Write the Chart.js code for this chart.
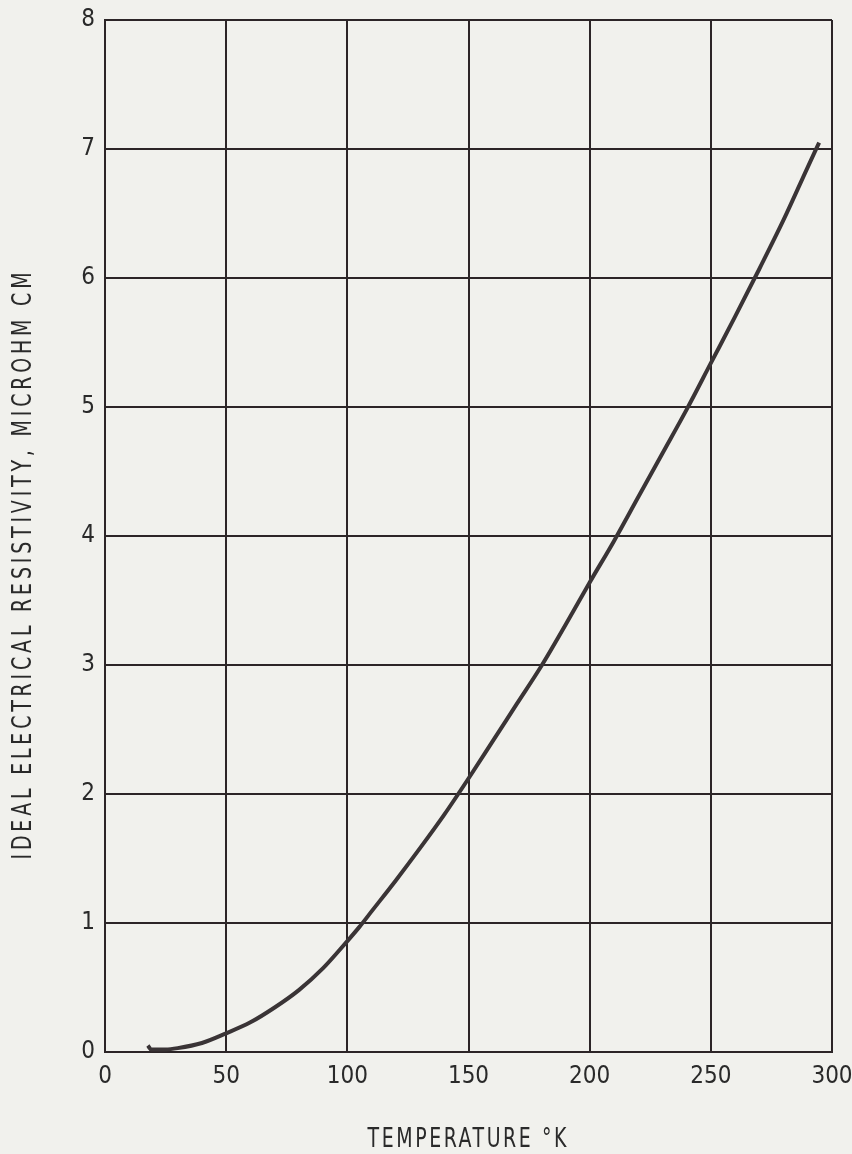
<!DOCTYPE html>
<html>
<head>
<meta charset="utf-8">
<script src="https://cdn.jsdelivr.net/npm/chart.js@4.4.1/dist/chart.umd.min.js"></script>
<style>
  html, body { margin: 0; padding: 0; background: #f1f1ed; }
  #wrap { width: 852px; height: 1154px; position: relative; }
</style>
</head>
<body>
<div id="wrap"><canvas id="rhoChart" width="852" height="1154"></canvas></div>
<script>
// Ideal electrical resistivity vs temperature.
var temps = [17.7, 19, 25, 30, 40, 50, 60, 70, 80, 90, 100, 105, 110, 120, 130, 140,
  150, 160, 170, 180, 190, 200, 210, 220, 230, 240, 250, 260, 270, 280, 290, 294.7];
var resistivity = [0.05, 0.02, 0.02, 0.03, 0.07, 0.145, 0.23, 0.345, 0.48, 0.65, 0.86, 0.97, 1.09, 1.33, 1.58, 1.84,
  2.12, 2.41, 2.7, 2.99, 3.31, 3.64, 3.96, 4.3, 4.64, 4.98, 5.34, 5.7, 6.07, 6.45, 6.86, 7.05];
var xTicks = [0, 50, 100, 150, 200, 250, 300];
var yTicks = [0, 1, 2, 3, 4, 5, 6, 7, 8];
var xTitle = 'TEMPERATURE \u00B0K';
var yTitle = 'IDEAL ELECTRICAL RESISTIVITY, MICROHM CM';

var INK = '#2c2527';
var TEXT = '#2a2a2a';
var FONT = "'DejaVu Sans Condensed', 'Liberation Sans Narrow', 'Roboto Condensed', sans-serif";

// axis titles drawn by hand: narrow letters, spread to the original's length
var titlesPlugin = {
  id: 'axisTitles',
  afterDraw: function (chart) {
    var ctx = chart.ctx;
    ctx.save();
    ctx.fillStyle = TEXT;
    ctx.textAlign = 'center';
    ctx.textBaseline = 'middle';
    ctx.font = '27px ' + FONT;

    ctx.save();
    ctx.translate(467, 1140);
    fitText(ctx, xTitle, 199);
    ctx.restore();

    ctx.save();
    ctx.translate(24, 566);
    ctx.rotate(-Math.PI / 2);
    fitText(ctx, yTitle, 587);
    ctx.restore();
    ctx.restore();
  }
};

function fitText(ctx, text, width) {
  var squeeze = 0.78;
  ctx.scale(squeeze, 1);
  ctx.letterSpacing = '0px';
  var w = ctx.measureText(text).width;
  var sp = (width / squeeze - w) / (text.length - 1);
  ctx.letterSpacing = sp + 'px';
  ctx.fillText(text, sp / 2, 0);
}

var bgPlugin = {
  id: 'bg',
  beforeDraw: function (chart) {
    var ctx = chart.ctx;
    ctx.save();
    ctx.fillStyle = '#f1f1ed';
    ctx.fillRect(0, 0, chart.width, chart.height);
    ctx.restore();
  }
};

new Chart(document.getElementById('rhoChart').getContext('2d'), {
  type: 'line',
  data: {
    datasets: [{
      data: temps.map(function (t, i) { return { x: t, y: resistivity[i] }; }),
      borderColor: '#3a3436',
      borderWidth: 4,
      pointRadius: 0,
      fill: false,
      cubicInterpolationMode: 'monotone'
    }]
  },
  options: {
    responsive: false,
    animation: false,
    layout: { padding: { left: 0, right: 20, top: 20, bottom: 0 } },
    plugins: { legend: { display: false }, tooltip: { enabled: false } },
    scales: {
      x: {
        type: 'linear',
        min: 0, max: 300,
        afterBuildTicks: function (s) { s.ticks = xTicks.map(function (v) { return { value: v }; }); },
        afterFit: function (s) { s.height = 102; s.paddingLeft = 0; s.paddingRight = 0; },
        grid: { color: INK, lineWidth: 2, drawTicks: false },
        border: { color: INK, width: 2 },
        ticks: { color: TEXT, padding: 10, font: { size: 24, family: FONT }, maxRotation: 0 }
      },
      y: {
        min: 0, max: 8,
        afterBuildTicks: function (s) { s.ticks = yTicks.map(function (v) { return { value: v }; }); },
        afterFit: function (s) { s.width = 105; s.paddingTop = 0; s.paddingBottom = 0; },
        grid: { color: INK, lineWidth: 2, drawTicks: false },
        border: { color: INK, width: 2 },
        ticks: { color: TEXT, padding: 10, font: { size: 24, family: FONT } }
      }
    }
  },
  plugins: [bgPlugin, titlesPlugin]
});
</script>
</body>
</html>
